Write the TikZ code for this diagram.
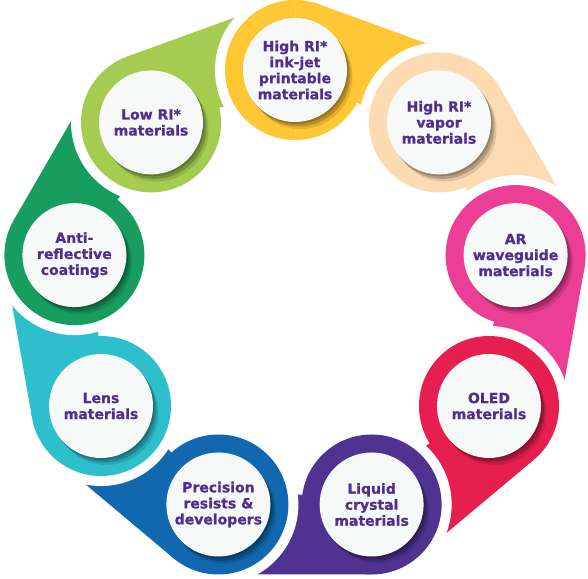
\documentclass[tikz,border=0pt]{standalone}
\usepackage{fontspec}
\setmainfont{DejaVu Sans}[BoldFeatures={FakeBold=0.8}]
\usetikzlibrary{calc,shadows}

\definecolor{yel}{HTML}{FFC733}
\definecolor{pea}{HTML}{FCDAB2}
\definecolor{mag}{HTML}{EC3E94}
\definecolor{cri}{HTML}{E61F50}
\definecolor{pur}{HTML}{503391}
\definecolor{blu}{HTML}{1268AE}
\definecolor{cya}{HTML}{2EBFCD}
\definecolor{gre}{HTML}{179D60}
\definecolor{lim}{HTML}{A5CB51}
\definecolor{txtc}{HTML}{4E2F8F}
\definecolor{disc}{HTML}{F7F8F8}

\tikzset{
  label disc/.style={circle,fill=disc,minimum size=104pt,inner sep=0pt,align=center,
    text=txtc,font=\bfseries\fontsize{14}{16}\selectfont},
  soft shadow/.style={
    drop shadow={shadow xshift=1.5pt,shadow yshift=-2pt,fill=#1!35!black,opacity=.35},
    drop shadow={shadow xshift=3.5pt,shadow yshift=-4.5pt,fill=#1!35!black,opacity=.3},
    drop shadow={shadow xshift=5.5pt,shadow yshift=-7pt,fill=#1!35!black,opacity=.18}}
}

\begin{document}
\begin{tikzpicture}[x=1pt,y=1pt]
      \useasboundingbox (0,0) rectangle (588,578);
      \coordinate (o) at (295,284);
      % drops, each one cut by a white ring round the next
      \foreach \col [count=\i from 0] in {yel,pea,mag,cri,pur,blu,cya,gre,lim} {
        \pgfmathsetmacro\a{90-40*\i}
        \coordinate (c\i) at ($(o)+(\a:224)$);
        \coordinate (p\i) at ($(c\i)+(\a-20:70)$);
        \coordinate (t\i) at ($(p\i)!1.15!($(o)+(\a-26:282)$)$);
        \fill[white] (c\i) circle (80);
        \fill[\col] (c\i) circle (70);
        \fill[\col] (c\i) -- (p\i) -- (t\i) -- ($(o)+(\a-40:224)$)
          -- ($(o)+(\a-20:200)$) -- cycle;
      }
      % the first drop has to cut the tail of the last one
      \begin{scope}
        \clip (0,0) rectangle (295,578);
        \fill[white] (c0) circle (80);
        \fill[yel] (c0) circle (70);
      \end{scope}
      \foreach \col/\txt [count=\i from 0] in {
          yel/{High RI*\\ink-jet\\printable\\materials},
          pea/{High RI*\\vapor\\materials},
          mag/{AR\\waveguide\\materials},
          cri/{OLED\\materials},
          pur/{Liquid\\crystal\\materials},
          blu/{Precision\\resists \&\\developers},
          cya/{Lens\\materials},
          gre/{Anti-\\reflective\\coatings},
          lim/{Low RI*\\materials}} {
        \node[label disc,soft shadow=\col] (n\i) at (c\i) {\txt};
      }
   \end{tikzpicture}
\end{document}
